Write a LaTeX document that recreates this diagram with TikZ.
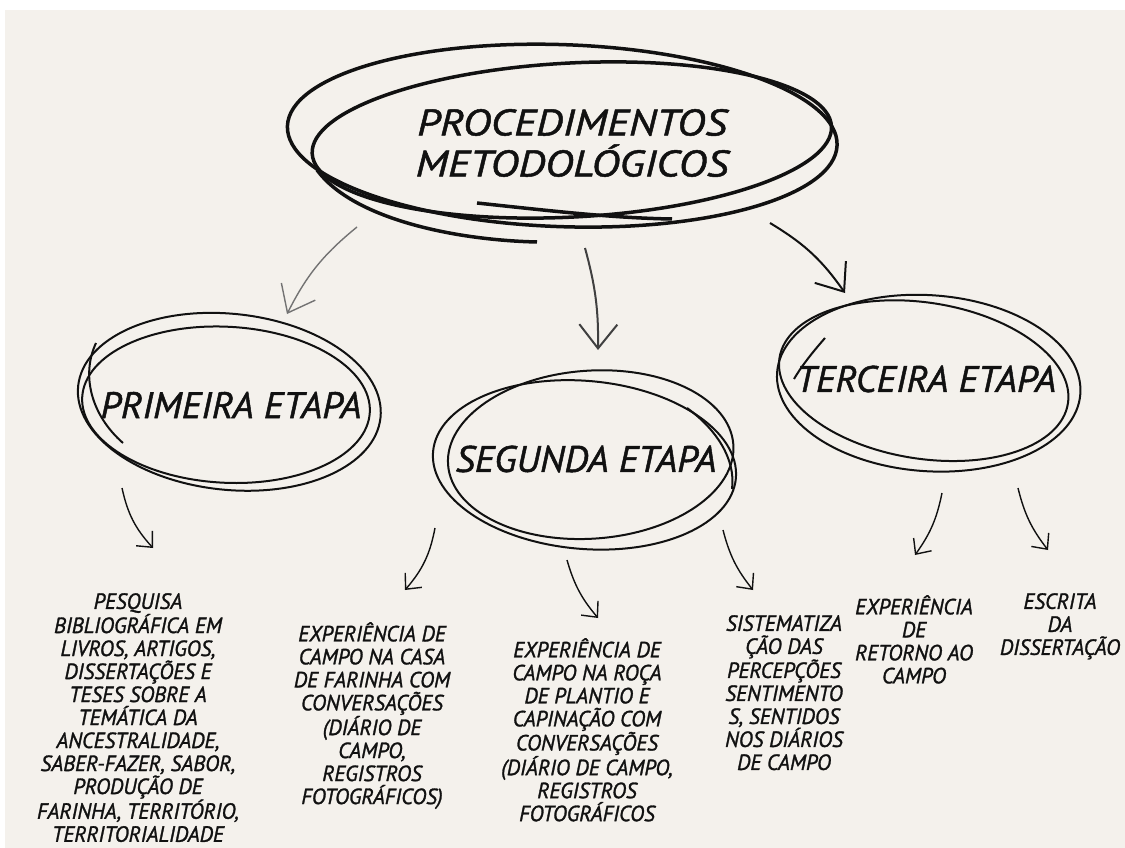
\documentclass[tikz,border=0pt]{standalone}
\usepackage{fontspec}
\newfontfamily\handfont{PT Sans}[FakeStretch=0.97,FakeBold=1.3]
\newfontfamily\etapafont{PT Sans}[FakeStretch=1.03,FakeBold=1.3]
\newfontfamily\bigtitlefont{PT Sans}[FakeStretch=1.16,FakeBold=1.3]
\usetikzlibrary{arrows.meta}
\definecolor{papel}{HTML}{F4F1EC}
\definecolor{tinta}{HTML}{111111}
\tikzset{
  txt/.style={font=\handfont\itshape\fontsize{22}{23}\selectfont, align=center, inner sep=0pt, text=tinta, anchor=north},
  etapa/.style={font=\etapafont\itshape\fontsize{37}{41}\selectfont, align=center, inner sep=0pt, text=tinta},
  loopthick/.style={line width=3.5pt, draw=tinta},
  loopthin/.style={line width=2pt, draw=tinta},
  arrsmall/.style={-{Straight Barb[length=12pt,width=22pt]}, line width=1.4pt, draw=tinta},
  arrbig/.style={-{Straight Barb[length=24pt,width=38pt]}, line width=2pt, draw=tinta},
}
\begin{document}
\begin{tikzpicture}[x=1pt,y=-1pt]
\fill[white] (0,0) rectangle (1125,848);
\fill[papel] (5,10) rectangle (1125,848);
\useasboundingbox (0,0) rectangle (1125,848);

\node[etapa, font=\bigtitlefont\itshape\fontsize{37}{41}\selectfont] (main) at (572,143) {PROCEDIMENTOS\\METODOLÓGICOS};
\node[etapa] (p1) at (231,405) {PRIMEIRA ETAPA};
\node[etapa] (p2) at (586,459) {SEGUNDA ETAPA};
\node[etapa] (p3) at (926,379) {TERCEIRA ETAPA};

\node[txt] (t1) at (138,593) {PESQUISA\\BIBLIOGRÁFICA EM\\LIVROS, ARTIGOS,\\DISSERTAÇÕES E\\TESES SOBRE A\\TEMÁTICA DA\\ANCESTRALIDADE,\\SABER-FAZER, SABOR,\\PRODUÇÃO DE\\FARINHA, TERRITÓRIO,\\TERRITORIALIDADE};
\node[txt] (t2) at (372,622) {EXPERIÊNCIA DE\\CAMPO NA CASA\\DE FARINHA COM\\CONVERSAÇÕES\\(DIÁRIO DE\\CAMPO,\\REGISTROS\\FOTOGRÁFICOS)};
\node[txt] (t3) at (587,638) {EXPERIÊNCIA DE\\CAMPO NA ROÇA\\DE PLANTIO E\\CAPINAÇÃO COM\\CONVERSAÇÕES\\(DIÁRIO DE CAMPO,\\REGISTROS\\FOTOGRÁFICOS};
\node[txt] (t4) at (784,615) {SISTEMATIZA\\ÇÃO DAS\\PERCEPÇÕES\\SENTIMENTO\\S, SENTIDOS\\NOS DIÁRIOS\\DE CAMPO};
\node[txt] (t5) at (914,595) {EXPERIÊNCIA\\DE\\RETORNO AO\\CAMPO};
\node[txt] (t6) at (1060,593) {ESCRITA\\DA\\DISSERTAÇÃO};

% scribbled loops
\begin{scope}[shift={(main.center)}]
  \draw[loopthick, rotate=-2] (-10,-7) ellipse [x radius=275, y radius=91];
  \draw[loopthick, rotate=3] (0,-3) ellipse [x radius=260, y radius=77];
  \draw[loopthick] (-95,60) .. controls (-20,68) and (40,75) .. (100,76);
  \draw[loopthick] (-255,27) .. controls (-220,75) and (-120,97) .. (-35,99);
\end{scope}
\begin{scope}[shift={(p1.center)}]
  \draw[loopthin, rotate=-6] (-2,-3) ellipse [x radius=152, y radius=88];
  \draw[loopthin, rotate=-3] (-5,0) ellipse [x radius=144, y radius=78];
  \draw[loopthin] (-108,38) .. controls (-140,10) and (-150,-30) .. (-135,-62);
\end{scope}
\begin{scope}[shift={(p2.center)}]
  \draw[loopthin, rotate=-5] (-1,6) ellipse [x radius=152, y radius=84];
  \draw[loopthin, rotate=4] (5,-4) ellipse [x radius=143, y radius=84];
  \draw[loopthin] (101,-51) .. controls (130,-30) and (150,0) .. (146,30);
\end{scope}
\begin{scope}[shift={(p3.center)}]
  \draw[loopthin, rotate=-4] (3,4) ellipse [x radius=152, y radius=88];
  \draw[loopthin, rotate=-9] (-2,2) ellipse [x radius=146, y radius=78];
  \draw[loopthin] (-101,-41) .. controls (-115,-25) and (-125,-12) .. (-132,0);
\end{scope}

\draw[arrbig, line width=1.4pt, draw=gray!90!black] ([shift={(-215,84)}]main.center) to[bend right=12] ([shift={(56,-91)}]p1.center);
\draw[arrbig, draw=black!75] ([shift={(13,105)}]main.center) to[bend left=8] ([shift={(12,-109)}]p2.center);
\draw[arrbig] ([shift={(198,80)}]main.center) to[bend left=12] ([shift={(-81,-86)}]p3.center);

\draw[arrsmall] ([shift={(-109,83)}]p1.center) to[bend right=15] ([shift={(15,-45)}]t1.north);
\draw[arrsmall] ([shift={(-151,69)}]p2.center) to[bend left=15] ([shift={(33,-32)}]t2.north);
\draw[arrsmall] ([shift={(-19,101)}]p2.center) to[bend right=12] ([shift={(11,-20)}]t3.north);
\draw[arrsmall] ([shift={(137,71)}]p2.center) to[bend right=12] ([shift={(-31,-25)}]t4.north);
\draw[arrsmall] ([shift={(16,114)}]p3.center) to[bend left=12] ([shift={(1,-40)}]t5.north);
\draw[arrsmall] ([shift={(92,109)}]p3.center) to[bend right=12] ([shift={(-12,-43)}]t6.north);
\end{tikzpicture}
\end{document}
